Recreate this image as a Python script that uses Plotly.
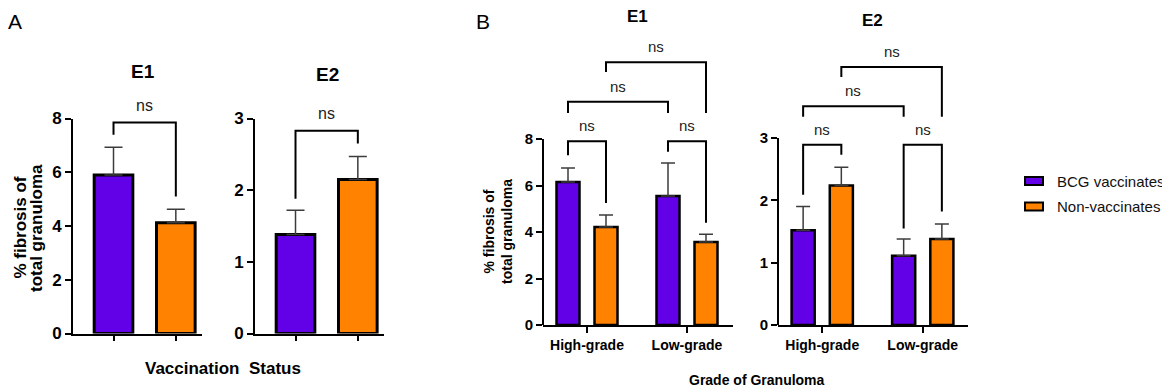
import plotly.graph_objects as go

# ---- data ----
groups_a = ["BCG vaccinates", "Non-vaccinates"]
a_e1_mean = [5.9, 4.12]
a_e1_sem = [1.03, 0.5]
a_e2_mean = [1.38, 2.15]
a_e2_sem = [0.34, 0.32]

grades = ["High-grade", "Low-grade"]
b_e1_bcg = [6.15, 5.55]
b_e1_bcg_sem = [0.6, 1.42]
b_e1_non = [4.22, 3.57]
b_e1_non_sem = [0.51, 0.33]
b_e2_bcg = [1.52, 1.11]
b_e2_bcg_sem = [0.38, 0.27]
b_e2_non = [2.24, 1.38]
b_e2_non_sem = [0.29, 0.24]

# brackets: (bar i, bar j, bar height, left leg end, right leg end)
a_e1_brackets = [(0, 1, 7.85, 7.4, 5.1)]
a_e2_brackets = [(0, 1, 2.83, 1.88, 2.65)]
b_e1_brackets = [(0, 1, 7.9, 7.3, 5.25), (2, 3, 7.9, 7.45, 4.4),
                 (0, 2, 9.6, 9.12, 9.12), (1, 3, 11.3, 10.88, 9.12)]
b_e2_brackets = [(0, 1, 2.89, 2.09, 2.73), (2, 3, 2.89, 1.55, 1.82),
                 (0, 2, 3.51, 3.34, 3.34), (1, 3, 4.14, 3.98, 3.34)]

PURPLE = "#6200E8"
ORANGE = "#FF8200"
FONT = "Liberation Sans, Arial, sans-serif"
PAGE_MARGIN = 8  # default body margin of the html page
W, H = 1170 - PAGE_MARGIN, 390 - PAGE_MARGIN
BARGAP = 0.24


def px(x):
    return (x - PAGE_MARGIN) / W


def py(y):
    return 1 - (y - PAGE_MARGIN) / H


def err(sem, w):
    return dict(type="data", symmetric=False, array=sem, arrayminus=[0] * len(sem),
                color="#3c3c3c", thickness=1.5, width=w)


fig = go.Figure()

# panel A
fig.add_trace(go.Bar(x=groups_a, y=a_e1_mean, width=0.62, error_y=err(a_e1_sem, 9),
                     marker=dict(color=[PURPLE, ORANGE], line=dict(color="black", width=3)),
                     showlegend=False, xaxis="x", yaxis="y"))
fig.add_trace(go.Bar(x=groups_a, y=a_e2_mean, width=0.62, error_y=err(a_e2_sem, 9),
                     marker=dict(color=[PURPLE, ORANGE], line=dict(color="black", width=3)),
                     showlegend=False, xaxis="x2", yaxis="y2"))

# panel B
for ax, bcg, bsem, non, nsem in [("3", b_e1_bcg, b_e1_bcg_sem, b_e1_non, b_e1_non_sem),
                                 ("4", b_e2_bcg, b_e2_bcg_sem, b_e2_non, b_e2_non_sem)]:
    fig.add_trace(go.Bar(x=grades, y=bcg, name="BCG vaccinates",
                         error_y=err(bsem, 7), showlegend=False,
                         marker=dict(color=PURPLE, line=dict(color="black", width=2.5)),
                         xaxis="x" + ax, yaxis="y" + ax))
    fig.add_trace(go.Bar(x=grades, y=non, name="Non-vaccinates",
                         error_y=err(nsem, 7), showlegend=False,
                         marker=dict(color=ORANGE, line=dict(color="black", width=2.5)),
                         xaxis="x" + ax, yaxis="y" + ax))

shapes = []
annotations = []

# bar centres
off = (1 - BARGAP) / 4
b_centres = [0 - off, 0 + off, 1 - off, 1 + off]
a_centres = [0, 1]

for ax, centres, brackets, fs, shift in [("", a_centres, a_e1_brackets, 16, 7),
                                         ("2", a_centres, a_e2_brackets, 16, 7),
                                         ("3", b_centres, b_e1_brackets, 15, 5),
                                         ("4", b_centres, b_e2_brackets, 15, 5)]:
    for i, j, h, li, lj in brackets:
        xi, xj = centres[i], centres[j]
        shapes.append(dict(type="path", xref="x" + ax, yref="y" + ax,
                           path=f"M {xi},{li} L {xi},{h} L {xj},{h} L {xj},{lj}",
                           line=dict(color="black", width=2)))
        annotations.append(dict(x=(xi + xj) / 2, y=h, xref="x" + ax, yref="y" + ax,
                                text="ns", showarrow=False, yanchor="bottom", yshift=shift,
                                font=dict(size=fs, color="#222222", family=FONT)))

# visible y-axis lines for panel B (range extends above top tick)
for ax, top in [("3", 8), ("4", 3)]:
    shapes.append(dict(type="line", xref="x" + ax + " domain", yref="y" + ax,
                       x0=0, x1=0, y0=0, y1=top, line=dict(color="black", width=2)))

# legend
for name, color, yc in [("BCG vaccinates", PURPLE, 181), ("Non-vaccinates", ORANGE, 206.5)]:
    shapes.append(dict(type="rect", xref="paper", yref="paper",
                       x0=px(1025), x1=px(1043), y0=py(yc + 4), y1=py(yc - 4),
                       fillcolor=color, line=dict(color="black", width=2)))
    annotations.append(dict(x=px(1055), y=py(yc), xref="paper", yref="paper", text=name,
                            showarrow=False, xanchor="left", yanchor="middle",
                            font=dict(size=15, family=FONT, color="#111111")))

axis_common = dict(showgrid=False, zeroline=False, linecolor="black", linewidth=2,
                   ticks="outside", tickwidth=2, tickcolor="black", automargin=False)

a_ydom = [py(333.5), py(118.5)]
b_ydom = [py(325), py(55)]

fig.update_layout(
    width=W, height=H, margin=dict(l=0, r=0, t=0, b=0, autoexpand=False),
    plot_bgcolor="white", paper_bgcolor="white", showlegend=False,
    barmode="group", bargap=BARGAP, bargroupgap=0.395,
    font=dict(family=FONT, color="black"),
    xaxis=dict(domain=[px(73), px(202)], range=[-0.65, 1.42], showline=True,
               showticklabels=False, ticklen=5, anchor="y", **axis_common),
    yaxis=dict(domain=a_ydom, range=[0, 8], tickvals=[0, 2, 4, 6, 8], showline=True,
               ticklen=6, anchor="x", tickfont=dict(size=17, weight="bold"), **axis_common),
    xaxis2=dict(domain=[px(255), px(384)], range=[-0.65, 1.42], showline=True,
                showticklabels=False, ticklen=5, anchor="y2", **axis_common),
    yaxis2=dict(domain=a_ydom, range=[0, 3], tickvals=[0, 1, 2, 3], showline=True,
                ticklen=6, anchor="x2", tickfont=dict(size=17, weight="bold"), **axis_common),
    xaxis3=dict(domain=[px(543), px(733)], range=[-0.44, 1.46], showline=True,
                ticklen=6, anchor="y3", tickfont=dict(size=14, weight="bold"), **axis_common),
    yaxis3=dict(domain=b_ydom, range=[0, 270 / 23.25], tickvals=[0, 2, 4, 6, 8], showline=False,
                ticklen=6, anchor="x3", tickfont=dict(size=15, weight="bold"), **axis_common),
    xaxis4=dict(domain=[px(778), px(968)], range=[-0.44, 1.45], showline=True,
                ticklen=6, anchor="y4", tickfont=dict(size=14, weight="bold"), **axis_common),
    yaxis4=dict(domain=b_ydom, range=[0, 270 / 62.33], tickvals=[0, 1, 2, 3], showline=False,
                ticklen=6, anchor="x4", tickfont=dict(size=15, weight="bold"), **axis_common),
    shapes=shapes,
)


def label(text, x, y, size, bold=True, angle=0, xanchor="center", yanchor="middle"):
    annotations.append(dict(x=px(x), y=py(y), xref="paper", yref="paper", text=text,
                            showarrow=False, textangle=angle, xanchor=xanchor, yanchor=yanchor,
                            font=dict(size=size, family=FONT, color="black",
                                      weight="bold" if bold else "normal")))


label("A", 15, 8, 21, bold=False, yanchor="top")
label("B", 483, 8, 21, bold=False, yanchor="top")
label("E1", 143, 72, 19)
label("E2", 327, 74, 19)
label("E1", 637, 16, 17)
label("E2", 873, 20, 17)
label("% fibrosis of", 8, 228, 17, angle=-90, xanchor="left")
label("total granuloma", 36, 228, 17, angle=-90)
label("% fibrosis of<br>total granuloma", 498, 232, 14, angle=-90)
label("Vaccination  Status", 223, 368, 17)
label("Grade of Granuloma", 757, 380, 14)

fig.update_layout(annotations=annotations)

fig.write_html("out.html")
